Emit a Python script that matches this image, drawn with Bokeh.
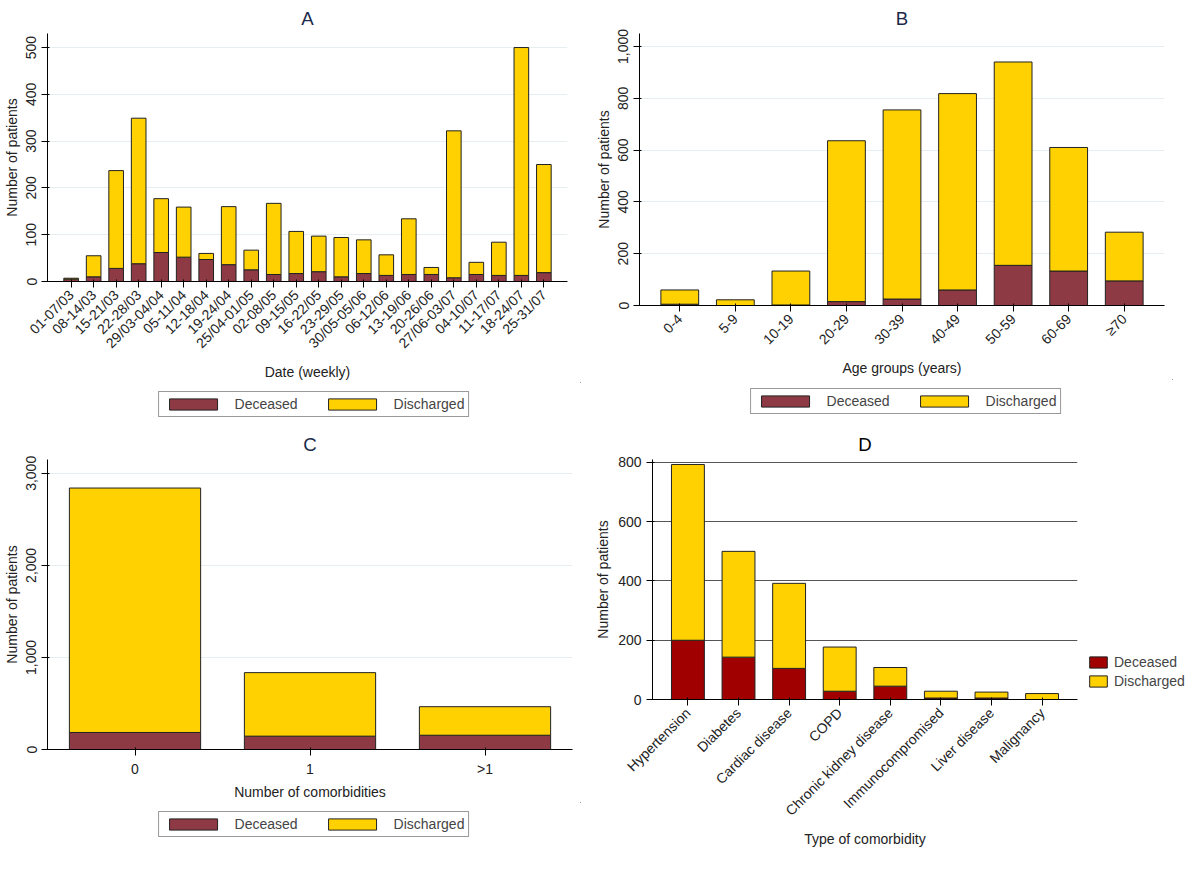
import math
from bokeh.plotting import figure
from bokeh.layouts import column, row
from bokeh.models import Legend, LegendItem, NumeralTickFormatter, FixedTicker
from bokeh.embed import file_html
from bokeh.resources import INLINE

weeks = ["01-07/03", "08-14/03", "15-21/03", "22-28/03", "29/03-04/04", "05-11/04",
         "12-18/04", "19-24/04", "25/04-01/05", "02-08/05", "09-15/05", "16-22/05",
         "23-29/05", "30/05-05/06", "06-12/06", "13-19/06", "20-26/06", "27/06-03/07",
         "04-10/07", "11-17/07", "18-24/07", "25-31/07"]
weeks_deceased = [5, 10, 28, 38, 62, 52, 47, 36, 25, 15, 17, 21, 10, 17, 13, 15, 15, 8, 15, 13, 13, 19]
weeks_total = [7, 55, 237, 349, 177, 159, 60, 160, 67, 167, 107, 97, 94, 89, 57, 134, 30, 322, 41, 84, 500, 250]

ages = ["0-4", "5-9", "10-19", "20-29", "30-39", "40-49", "50-59", "60-69", "≥70"]
ages_deceased = [5, 0, 2, 15, 25, 60, 155, 133, 95]
ages_total = [60, 22, 133, 636, 755, 818, 940, 610, 283]

ncomorb = ["0", "1", ">1"]
ncomorb_deceased = [185, 145, 155]
ncomorb_total = [2840, 835, 465]

comorb = ["Hypertension", "Diabetes", "Cardiac disease", "COPD", "Chronic kidney disease",
          "Immunocompromised", "Liver disease", "Malignancy"]
comorb_deceased = [200, 143, 105, 28, 45, 5, 5, 0]
comorb_total = [793, 500, 392, 177, 108, 28, 25, 20]

FONT = "Liberation Sans"
DEAD = "#8E3A44"
ALIVE = "#FFD100"


def panel(title, cats, dec, tot, ymax, ticks, xlabel, dead_color, width, fw, fh, right=12):
    p = figure(x_range=cats, y_range=(0, ymax), frame_width=fw, frame_height=fh, title=title,
               output_backend="svg", toolbar_location=None,
               min_border_left=10, min_border_right=right, min_border_top=5,
               min_border_bottom=4)
    p.outline_line_color = None
    p.title.align = "center"
    p.title.text_font = FONT
    p.title.text_font_size = "14pt"
    p.title.text_font_style = "normal"
    p.title.text_color = "#1a2a4a"
    data = {"cat": cats, "Deceased": dec, "Discharged": [t - d for t, d in zip(tot, dec)]}
    rs = p.vbar_stack(["Deceased", "Discharged"], x="cat", width=width, source=data,
                      color=[dead_color, ALIVE], line_color="#222222", line_width=1)
    p.xaxis.axis_label = xlabel
    p.yaxis.axis_label = "Number of patients"
    p.yaxis.ticker = FixedTicker(ticks=ticks)
    p.yaxis.formatter = NumeralTickFormatter(format="0,0")
    for ax in (p.xaxis, p.yaxis):
        ax.axis_label_text_font = FONT
        ax.axis_label_text_font_style = "normal"
        ax.axis_label_text_font_size = "10.5pt"
        ax.major_label_text_font = FONT
        ax.major_label_text_font_size = "10.5pt"
        ax.major_label_text_color = "#222222"
        ax.axis_label_text_color = "#222222"
        ax.minor_tick_line_color = None
        ax.axis_label_standoff = 4
    p.xgrid.grid_line_color = None
    p.ygrid.grid_line_color = "#e6eef2"
    p.x_range.range_padding = 0.05
    return p, rs


def legend_strip():
    # legend only; its swatch bars sit outside the visible range
    q = figure(width=592, height=44, x_range=(0, 1), y_range=(0, 1),
               output_backend="svg", toolbar_location=None, min_border=0)
    q.axis.visible = False
    q.grid.visible = False
    q.outline_line_color = None
    r1 = q.vbar(x=[5], top=[5], bottom=[4], width=0.1, color=DEAD, line_color="#222222")
    r2 = q.vbar(x=[5], top=[5], bottom=[4], width=0.1, color=ALIVE, line_color="#222222")
    lg = Legend(items=[LegendItem(label="Deceased", renderers=[r1]),
                       LegendItem(label="Discharged", renderers=[r2])],
                label_text_font=FONT, label_text_font_size="10.5pt",
                glyph_width=60, glyph_height=14, border_line_color="#333333",
                orientation="horizontal", spacing=24, location="center", margin=0,
                padding=4, label_standoff=12)
    q.add_layout(lg)
    return q


pa, _ = panel("A", weeks, weeks_deceased, weeks_total, 530, [0, 100, 200, 300, 400, 500],
              "Date (weekly)", DEAD, 0.65, 520, 248)
pa.xaxis.major_label_orientation = math.pi / 4
pa.yaxis.major_label_orientation = "vertical"

pb, _ = panel("B", ages, ages_deceased, ages_total, 1050, [0, 200, 400, 600, 800, 1000],
              "Age groups (years)", DEAD, 0.68, 525, 272)
pb.xaxis.major_label_orientation = math.pi / 4
pb.yaxis.major_label_orientation = "vertical"

pc, _ = panel("C", ncomorb, ncomorb_deceased, ncomorb_total, 3150, [0, 1000, 2000, 3000],
              "Number of comorbidities", DEAD, 0.75, 525, 290)
pc.yaxis.major_label_orientation = "vertical"
pc.x_range.range_padding = 0.0

pd_, rd = panel("D", comorb, comorb_deceased, comorb_total, 810, [0, 200, 400, 600, 800],
                "Type of comorbidity", "#A00000", 0.65, 425, 240, right=4)
pd_.xaxis.major_label_orientation = math.pi / 4
pd_.ygrid.grid_line_color = "#555555"
pd_.title.text_color = "black"
pd_.add_layout(Legend(items=[LegendItem(label="Deceased", renderers=[rd[0]]),
                             LegendItem(label="Discharged", renderers=[rd[1]])],
                      label_text_font=FONT, label_text_font_size="10.5pt",
                      glyph_width=22, glyph_height=14, border_line_color=None,
                      location="bottom_left"), "right")

layout = column(row(column(pa, legend_strip(), spacing=0), column(pb, legend_strip(), spacing=0), spacing=0),
                row(column(pc, legend_strip(), spacing=0), pd_, spacing=0), spacing=0)
open("out.html", "w").write(file_html(layout, INLINE))
